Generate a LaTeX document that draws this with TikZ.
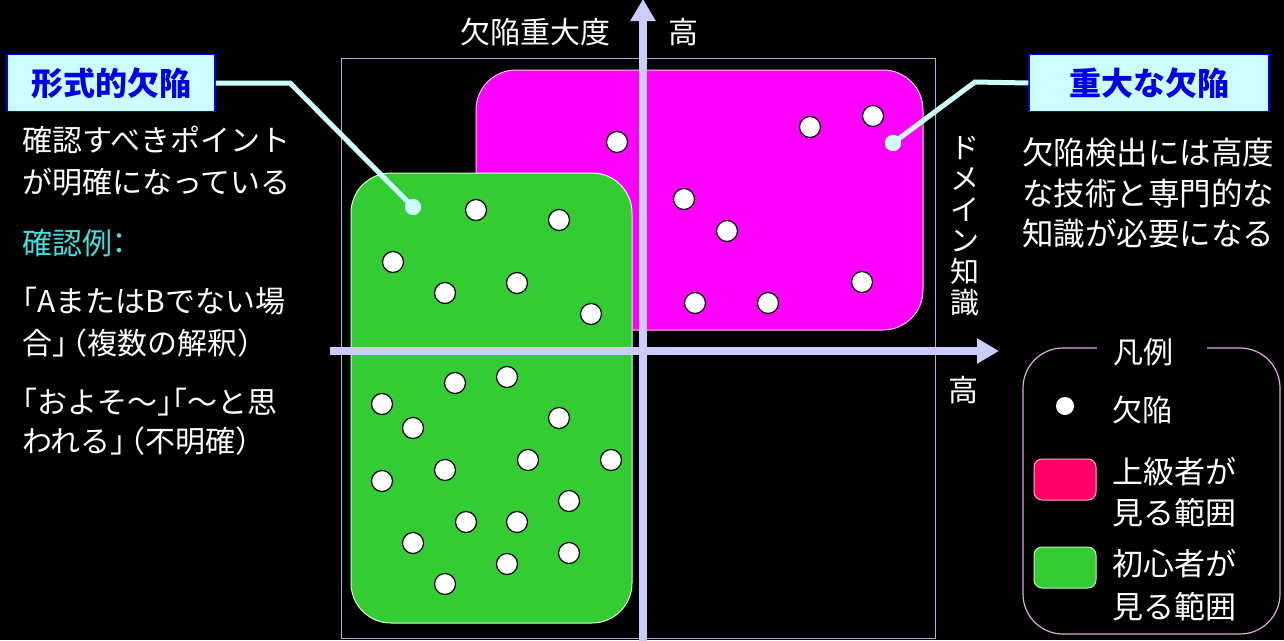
\documentclass[tikz,border=0pt]{standalone}
\usepackage{fontspec}
\setmainfont{Noto Sans CJK JP}
\newcommand{\hwb}[1]{{\addfontfeature{RawFeature=+halt}#1}}
\usetikzlibrary{arrows.meta}
\definecolor{axiscol}{RGB}{204,204,255}
\definecolor{framecol}{RGB}{170,170,220}
\definecolor{magzone}{RGB}{255,0,255}
\definecolor{greenzone}{RGB}{51,204,51}
\definecolor{callfill}{RGB}{204,255,255}
\definecolor{calltext}{RGB}{0,0,230}
\definecolor{cyantext}{RGB}{64,224,224}
\definecolor{legendcol}{RGB}{224,170,224}
\definecolor{pinkswatch}{RGB}{255,0,102}
\begin{document}
\begin{tikzpicture}[x=1pt,y=-1pt,
  txt/.style={text=white,inner sep=0pt,font=\fontsize{30}{42}\selectfont},
  ltxt/.style={txt,anchor=west,align=left},
  defect/.style={circle,draw=black,line width=1.2pt,fill=white,minimum size=21pt,inner sep=0pt},
  enddot/.style={circle,fill=callfill,minimum size=16pt,inner sep=0pt},
  callbox/.style={draw=blue,line width=1.5pt,fill=callfill,text=calltext,minimum height=57pt,inner sep=0pt,font=\fontsize{32}{36}\selectfont\bfseries},
  callline/.style={draw=callfill,line width=5pt},
  axisline/.style={draw=axiscol,line width=8pt,-{Triangle[width=24pt,length=22pt]}},
  zone/.style={rounded corners=40pt,draw=white!85!green,line width=1pt}
]
\fill[black] (0,0) rectangle (1284,640);
\useasboundingbox (0,0) rectangle (1284,640);

% frame
\draw[framecol,line width=1pt] (341,58) rectangle (935,638);

% zones
\path[zone,fill=magzone,draw=white!80!magenta] (476,70) rectangle (923,330);
\path[zone,fill=greenzone] (351,173) rectangle (632,623);

% axes
\coordinate (vbot) at (643,645);
\coordinate (vtop) at (643,-1);
\coordinate (hleft) at (330,351);
\coordinate (hright) at (999,351);
\draw[axisline] (vbot) -- (vtop);
\draw[axisline] (hleft) -- (hright);

% axis labels
\node[txt,anchor=east] (ylab) at (611,32) {欠陥重大度};
\node[txt] (yhigh) at (683,32) {高};
\node[txt,align=center,font=\fontsize{29}{31}\selectfont] (xlab) at (965,226) {ド\\メ\\イ\\ン\\知\\識};
\node[txt] (xhigh) at (963,390) {高};

% defects in magenta zone
\foreach \n/\x/\y in {m1/617/142,m2/810/127,m3/873/116,m4/684/199,m5/727/231,m6/862/282,m7/695/303,m8/768/303}
  \node[defect] (\n) at (\x,\y) {};
% defects in green zone
\foreach \n/\x/\y in {g1/476/210,g2/559/220,g3/393/262,g4/517/283,g5/445/293,g6/591/314,g7/455/383,g8/507/377,g9/382/404,g10/559/418,g11/413/428,g12/611/460,g13/528/460,g14/445/470,g15/382/481,g16/569/501,g17/466/522,g18/517/522,g19/413/543,g20/569/553,g21/507/564,g22/445/584}
  \node[defect] (\n) at (\x,\y) {};

% callouts
\node[callbox,minimum width=208pt] (t1) at (111,83) {形式的欠陥};
\node[callbox,minimum width=240pt] (t2) at (1149,83) {重大な欠陥};
\coordinate (k1) at (290,83);
\coordinate (k2) at (975,82);
\node[enddot] (e1) at (413,207) {};
\node[enddot] (e2) at (893,143) {};
\draw[callline] (t1.east) -- (k1) -- (e1.center);
\draw[callline] (t2.west) -- (k2) -- (e2.center);
\node[enddot] at (e1) {};
\node[enddot] at (e2) {};

% left texts
\node[ltxt] (lt1) at (22,161) {確認すべきポイント\\が明確になっている};
\node[ltxt,text=cyantext] (lt2) at (22,243) {確認例\hwb{：}};
\node[ltxt] (lt3) at (22,322) {\hwb{「}AまたはBでない場\\合\hwb{」}\,\hwb{（}複数の解釈\hwb{）}};
\node[ltxt,font=\fontsize{30}{39}\selectfont] (lt4) at (22,422) {\hwb{「}およそ～\hwb{」「}～と思\\われる\hwb{」}\,\hwb{（}不明確\hwb{）}};

% right texts
\node[ltxt,font=\fontsize{31.5}{40.5}\selectfont] (rt1) at (1022,193) {欠陥検出には高度\\な技術と専門的な\\知識が必要になる};

% legend
\draw[legendcol,line width=1.2pt,rounded corners=40pt] (1023,348) rectangle (1280,634);
\fill[black] (1097,336) rectangle (1207,362);
\node[txt] (lgtitle) at (1143,352) {凡例};
\node[circle,fill=white,minimum size=18pt,inner sep=0pt] (lgdot) at (1065,406) {};
\node[ltxt] (lgdotlab) at (1112,410) {欠陥};
\draw[fill=pinkswatch,draw=white!70!pinkswatch,line width=1pt,rounded corners=8pt] (1034,459) rectangle (1096,500);
\node[ltxt,font=\fontsize{31}{41}\selectfont] (lgpinklab) at (1112,492) {上級者が\\見る範囲};
\draw[fill=greenzone,draw=white!70!greenzone,line width=1pt,rounded corners=8pt] (1034,547) rectangle (1096,588);
\node[ltxt,font=\fontsize{31}{43}\selectfont] (lggreenlab) at (1112,585) {初心者が\\見る範囲};
\end{tikzpicture}
\end{document}
